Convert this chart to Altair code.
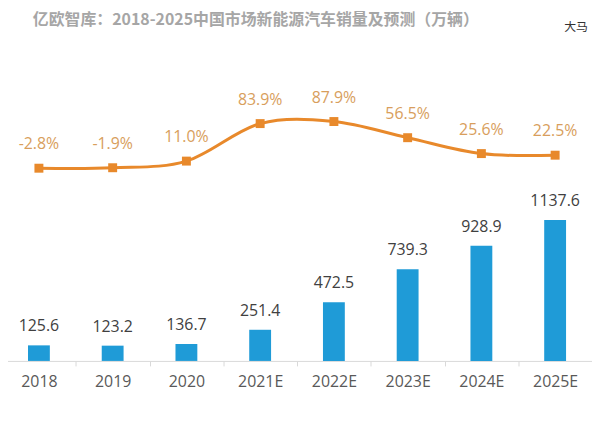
import altair as alt
import pandas as pd

years = ["2018", "2019", "2020", "2021E", "2022E", "2023E", "2024E", "2025E"]
sales = [125.6, 123.2, 136.7, 251.4, 472.5, 739.3, 928.9, 1137.6]
growth = [-2.8, -1.9, 11.0, 83.9, 87.9, 56.5, 25.6, 22.5]
sales_labels = [f"{v:.1f}" for v in sales]
growth_labels = [f"{v:.1f}%" for v in growth]

df = pd.DataFrame({
    "year": years,
    "sales": sales,
    "growth": growth,
    "sales_label": sales_labels,
    "growth_label": growth_labels,
})

BAR = "#1F9BD7"
ORANGE = "#E8892B"
PCT = "#D89E5C"

x = alt.X(
    "year:N", sort=years, title=None,
    scale=alt.Scale(paddingInner=0, paddingOuter=0),
    axis=alt.Axis(orient="bottom", labelAngle=0, labelFont="Open Sans", labelFontSize=16,
                  labelColor="#595959", domainColor="#D9D9D9", tickColor="#D9D9D9",
                  tickBand="extent", tickSize=5, labelPadding=8, grid=False),
)

ys = alt.Y("sales:Q", scale=alt.Scale(domain=[0, 2580], nice=False, zero=True), axis=None)
yg = alt.Y("growth:Q", scale=alt.Scale(domain=[-377.4, 244.2], nice=False, zero=False), axis=None)

base = alt.Chart(df)

bars = base.mark_bar(color=BAR, size=22).encode(x=x, y=ys)
bar_text = base.mark_text(font="Open Sans", fontSize=16, color="#404040",
                          baseline="middle", dy=-19).encode(x=x, y=ys, text="sales_label:N")
bar_layer = alt.layer(bars, bar_text)

line = base.mark_line(color=ORANGE, strokeWidth=3, interpolate="cardinal").encode(x=x, y=yg)
pts = base.mark_point(shape="square", filled=True, size=81, color=ORANGE, opacity=1).encode(x=x, y=yg)
line_text = base.mark_text(font="Open Sans", fontSize=16, color=PCT,
                           baseline="middle", dy=-24).encode(x=x, y=yg, text="growth_label:N")
line_layer = alt.layer(line, pts, line_text)

note = alt.Chart(pd.DataFrame({"t": ["大马"]})).mark_text(
    font="Noto Sans CJK SC", fontSize=12, color="#333333", align="center", baseline="middle"
).encode(x=alt.value(578), y=alt.value(-14), text="t:N")

chart = alt.layer(bar_layer, line_layer, note).resolve_scale(y="independent").properties(
    width=594, height=322,
    autosize="none",
    background="white",
    padding={"left": -6, "top": 32, "right": 0, "bottom": 40},
    title=alt.Title(
        "亿欧智库：2018-2025中国市场新能源汽车销量及预测（万辆）",
        font="Noto Sans CJK SC", fontSize=16, fontWeight="bold", color="#A6A6A6",
        anchor="start", frame="group", dx=31, dy=15, offset=8,
    ),
).configure_view(stroke=None)

chart.save("out.html", embed_options={"renderer": "svg", "actions": False})
